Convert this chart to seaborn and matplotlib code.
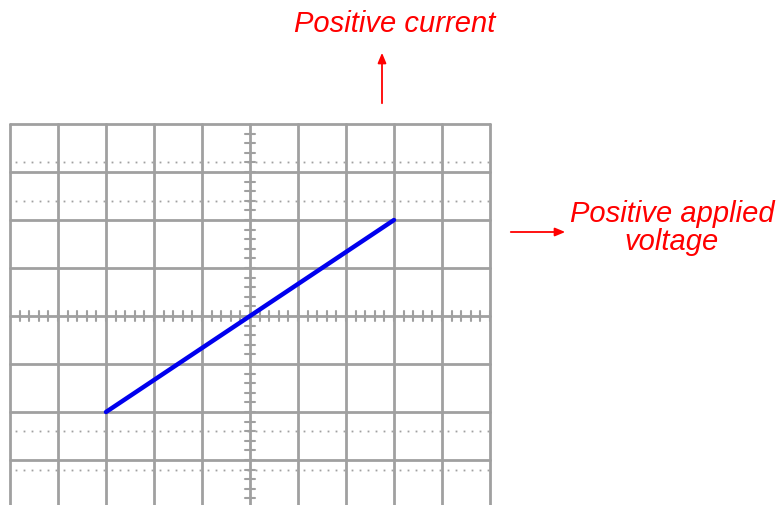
import numpy as np
import pandas as pd
import matplotlib
matplotlib.use("Agg")
import matplotlib.pyplot as plt
import seaborn as sns

# trace endpoints in screen divisions
voltage = [-3, 3]
current = [-2, 2]

x_divs = list(range(-5, 6))
y_divs = list(range(-4, 5))
dotted_rows = [3.2, 2.4, -2.4, -3.2]

label_current = "Positive current"
label_voltage = "Positive applied\nvoltage"

if __name__ == "__main__":
    sns.set_style("white")
    plt.rcParams['font.family'] = ['Liberation Sans', 'DejaVu Sans']

    fig = plt.figure(figsize=(7.8, 5.06), dpi=100)
    ax = fig.add_axes([10 / 780, -3 / 506, 480 / 780, 384 / 506])
    ax.set_xlim(-5, 5)
    ax.set_ylim(-4, 4)
    ax.axis('off')

    grid_col = '#a0a0a0'
    for x in x_divs:
        ax.plot([x, x], [-4, 4], color=grid_col, lw=2, clip_on=False, zorder=2)
    for y in y_divs:
        ax.plot([-5, 5], [y, y], color=grid_col, lw=2, clip_on=False, zorder=2)

    # dotted rise-time rows, 6 dots per division
    dot_x = np.arange(-4.875, 5, 1 / 6)
    for y in dotted_rows:
        ax.plot(dot_x, np.full_like(dot_x, y), ls='none', marker='s', ms=1.3,
                mew=0, color=grid_col, zorder=1)

    # minor ticks on center axes
    for t in np.arange(-5, 5.01, 0.2):
        ax.plot([t, t], [-0.1, 0.1], color=grid_col, lw=1.5, zorder=1)
    for t in np.arange(-4, 4.01, 0.2):
        ax.plot([-0.1, 0.1], [t, t], color=grid_col, lw=1.5, zorder=1)

    df = pd.DataFrame({'voltage': voltage, 'current': current})
    sns.lineplot(data=df, x='voltage', y='current', color='#0000ee', linewidth=3.2,
                 ax=ax, zorder=3, legend=False)

    red = '#ff0000'
    fig.text(395 / 780, 1 - 24 / 506, label_current, color=red, fontsize=21,
             style='italic', ha='center', va='center')
    fig.text(672 / 780, 1 - 228 / 506, label_voltage, color=red, fontsize=21,
             style='italic', ha='center', va='center', linespacing=1.03)

    fig.patches.append(matplotlib.patches.FancyArrowPatch(
        (382 / 780, 1 - 107 / 506), (382 / 780, 1 - 51 / 506), transform=fig.transFigure,
        arrowstyle='-|>,head_length=6,head_width=2.5', color=red, lw=1.3))
    fig.patches.append(matplotlib.patches.FancyArrowPatch(
        (508 / 780, 1 - 233 / 506), (568 / 780, 1 - 233 / 506), transform=fig.transFigure,
        arrowstyle='-|>,head_length=6,head_width=2.5', color=red, lw=1.3))

    plt.savefig('out.png', dpi=100)
